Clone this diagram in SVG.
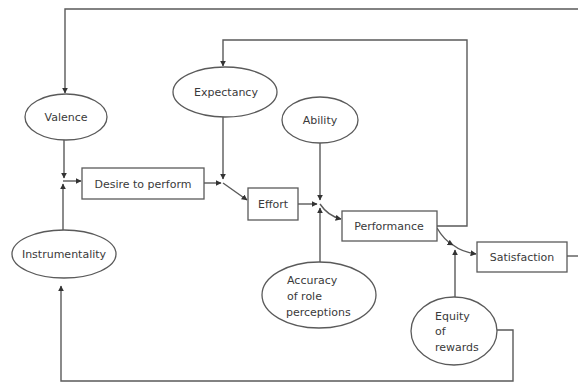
<svg xmlns="http://www.w3.org/2000/svg" width="578" height="386" viewBox="0 0 578 386">
<style>
.n{fill:#fff;stroke:#5a5a5a;stroke-width:1.3}
.t{font-family:"DejaVu Sans",sans-serif;font-size:11px;fill:#3a3a3a}
.c{fill:none;stroke:#5a5a5a;stroke-width:1.4}
</style>
<defs>
<marker id="a" viewBox="0 0 10 10" refX="9" refY="5" markerWidth="6" markerHeight="6" markerUnits="userSpaceOnUse" orient="auto">
<path d="M0,0 L10,5 L0,10 z" fill="#333"/>
</marker>
</defs>
<rect width="578" height="386" fill="#fff"/>
<g id="connectors">
<path class="c" d="M578,9 H65 V93" marker-end="url(#a)"/>
<path class="c" d="M437,226 H467 V40 H223 V66" marker-end="url(#a)"/>
<path class="c" d="M64,140 V178" marker-end="url(#a)"/>
<path class="c" d="M63,230 V184" marker-end="url(#a)"/>
<path class="c" d="M63,181 H81" marker-end="url(#a)"/>
<path class="c" d="M204,183 H221" marker-end="url(#a)"/>
<path class="c" d="M223,117 V179" marker-end="url(#a)"/>
<path class="c" d="M223,183 L247,200" marker-end="url(#a)"/>
<path class="c" d="M298,204 H317" marker-end="url(#a)"/>
<path class="c" d="M320,142 V200" marker-end="url(#a)"/>
<path class="c" d="M320,262 V208" marker-end="url(#a)"/>
<path class="c" d="M320,204 Q328,216 341,219" marker-end="url(#a)"/>
<path class="c" d="M437,228 Q444,240 453,245" marker-end="url(#a)"/>
<path class="c" d="M453,245 Q462,252 476,254" marker-end="url(#a)"/>
<path class="c" d="M455,297 V250" marker-end="url(#a)"/>
<path class="c" d="M497,330 H513 V381 H61 V286" marker-end="url(#a)"/>
<path class="c" d="M567,256 H578"/>
</g>
<g id="valence"><ellipse class="n" cx="66" cy="117" rx="41" ry="23"/><text class="t" x="66" y="121" text-anchor="middle">Valence</text></g>
<g id="expectancy"><ellipse class="n" cx="225" cy="92" rx="52" ry="25"/><text class="t" x="226" y="96" text-anchor="middle">Expectancy</text></g>
<g id="ability"><ellipse class="n" cx="320" cy="120" rx="38" ry="23"/><text class="t" x="320" y="124" text-anchor="middle">Ability</text></g>
<g id="instrumentality"><ellipse class="n" cx="64" cy="254" rx="52" ry="24"/><text class="t" x="64" y="258" text-anchor="middle">Instrumentality</text></g>
<g id="desire"><rect class="n" x="82" y="168" width="122" height="31"/><text class="t" x="143" y="188" text-anchor="middle">Desire to perform</text></g>
<g id="effort"><rect class="n" x="248" y="188" width="50" height="32"/><text class="t" x="273" y="208" text-anchor="middle">Effort</text></g>
<g id="performance"><rect class="n" x="342" y="211" width="95" height="30"/><text class="t" x="389" y="230" text-anchor="middle">Performance</text></g>
<g id="satisfaction"><rect class="n" x="477" y="242" width="90" height="30"/><text class="t" x="522" y="261" text-anchor="middle">Satisfaction</text></g>
<g id="accuracy"><ellipse class="n" cx="319" cy="295" rx="57" ry="33"/><text class="t" x="287" y="284">Accuracy</text><text class="t" x="287" y="300">of role</text><text class="t" x="286" y="316">perceptions</text></g>
<g id="equity"><ellipse class="n" cx="454" cy="331" rx="43" ry="34"/><text class="t" x="435" y="320">Equity</text><text class="t" x="435" y="335">of</text><text class="t" x="435" y="351">rewards</text></g>
</svg>
